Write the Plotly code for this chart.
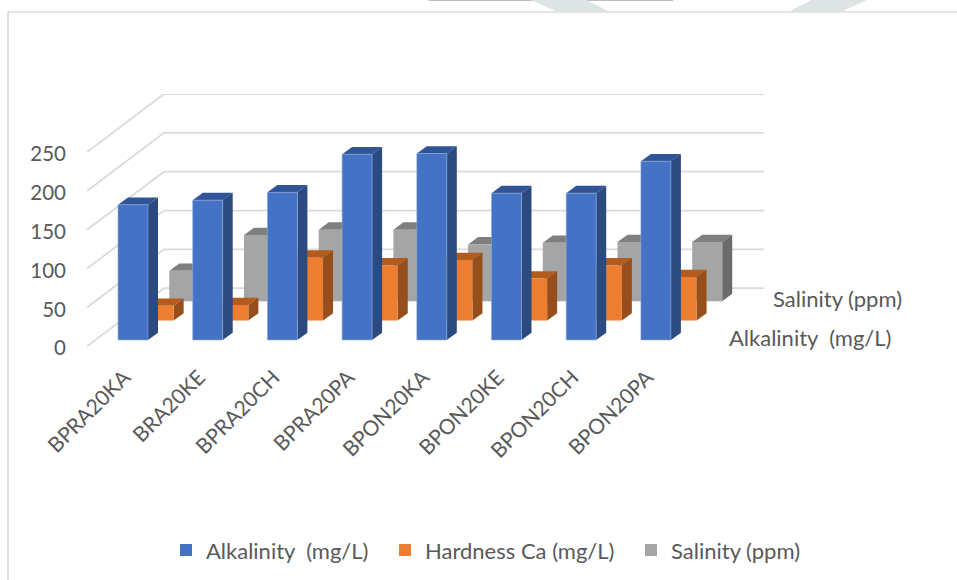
import plotly.graph_objects as go

categories = ["BPRA20KA", "BRA20KE", "BPRA20CH", "BPRA20PA", "BPON20KA", "BPON20KE", "BPON20CH", "BPON20PA"]
alkalinity = [174, 180, 190, 239, 240, 189, 189, 230]
hardness = [19, 20, 81, 71, 78, 54, 71, 56]
salinity = [39, 85, 92, 92, 73, 75, 76, 76]
value_ticks = [0, 50, 100, 150, 200, 250]

series_names = ["Alkalinity  (mg/L)", "Hardness Ca (mg/L)", "Salinity (ppm)"]
series_values = [alkalinity, hardness, salinity]
colors = [("#4472C4", "#2F5597", "#2A4A80"),
          ("#ED7D31", "#B45B1E", "#964F1C"),
          ("#A5A5A5", "#7F7F7F", "#6B6B6B")]

# page geometry (pixels)
W, H = 957, 580
L, R, T, B = 87, 764, 94.3, 346.3
PX_X = 74.7            # pixels per category
PX_Y = 0.776           # pixels per value unit
Y_BELOW = 3.5          # value units of plot area below the floor line
B_PLOT = B + Y_BELOW * PX_Y
WALL_X = (164 - 87) / PX_X
WALL_Y = 58 / PX_Y
BAR_X0 = (118 - 87) / PX_X - 0.5
BAR_W = 30 / PX_X
BAR_B0 = (B - 340) / PX_Y
STEP_X = 25.65 / PX_X
STEP_Y = 19.4 / PX_Y
SIDE_X = 10 / PX_X
SIDE_Y = 7.3 / PX_Y
LABEL_NUDGE = 2 / PX_Y  # value-axis labels sit slightly below their gridline ends
GRID = "#DADADA"
TEXT = "#595959"
FONT = "Lato"
LEGEND_X = [166, 385, 631]
LEGEND_Y = 529

fig = go.Figure()


def poly(points_list, color, line=None):
    xs, ys = [], []
    for pts in points_list:
        xs += [p[0] for p in pts] + [pts[0][0], None]
        ys += [p[1] for p in pts] + [pts[0][1], None]
    fig.add_trace(go.Scatter(x=xs, y=ys, mode="lines", fill="toself", fillcolor=color,
                             line=dict(width=0.6 if line else 0, color=line or color),
                             showlegend=False, hoverinfo="skip"))


# gridlines on the walls
xmax = (R - L) / PX_X - 0.5
for v in value_ticks:
    fig.add_trace(go.Scatter(x=[-0.5, -0.5 + WALL_X, xmax], y=[v, v + WALL_Y, v + WALL_Y],
                             mode="lines", line=dict(color=GRID, width=1.8),
                             showlegend=False, hoverinfo="skip"))

# bars, back series first
for s in (2, 1, 0):
    fronts, tops, sides = [], [], []
    for i, v in enumerate(series_values[s]):
        x0 = i + BAR_X0 + s * STEP_X
        x1 = x0 + BAR_W
        b = BAR_B0 + s * STEP_Y
        t = b + v
        fronts.append([(x0, b), (x1, b), (x1, t), (x0, t)])
        tops.append([(x0, t), (x1, t), (x1 + SIDE_X, t + SIDE_Y), (x0 + SIDE_X, t + SIDE_Y)])
        sides.append([(x1, b), (x1 + SIDE_X, b + SIDE_Y), (x1 + SIDE_X, t + SIDE_Y), (x1, t)])
    poly(tops, colors[s][1])
    poly(sides, colors[s][2])
    poly(fronts, colors[s][0], "#8FAADC" if s == 0 else None)


def px(x):
    return (x - L) / (R - L)


def py(y):
    return (B_PLOT - y) / (B_PLOT - T)


# legend entries, each with its own legend box
legend_ids = ["legend", "legend2", "legend3"]
for s in range(3):
    fig.add_trace(go.Scatter(x=[None], y=[None], mode="markers", name=series_names[s],
                             legend=legend_ids[s], showlegend=True,
                             marker=dict(symbol="square", size=14, color=colors[s][0])))


def legend_box(xpix):
    return dict(x=px(xpix), y=py(LEGEND_Y), xanchor="left", yanchor="top",
                font=dict(family=FONT, size=22, color=TEXT), itemsizing="constant",
                bgcolor="rgba(0,0,0,0)", itemclick=False, itemdoubleclick=False)


def rect_path(points):
    return "M " + " L ".join(f"{px(a):.4f},{py(b):.4f}" for a, b in points) + " Z"


shapes = [
    dict(type="line", xref="paper", yref="paper", x0=px(8), x1=px(8), y0=py(12), y1=py(580),
         line=dict(color="#D4D4D4", width=1.5), layer="below"),
    dict(type="line", xref="paper", yref="paper", x0=px(8), x1=px(957), y0=py(12.5), y1=py(12.5),
         line=dict(color="#DCDCDC", width=1.5), layer="below"),
    dict(type="line", xref="paper", yref="paper", x0=px(428.5), x1=px(673), y0=py(0.5), y1=py(0.5),
         line=dict(color="#A8A8A8", width=1.5), layer="below"),
    dict(type="path", xref="paper", yref="paper", layer="below", line=dict(width=0),
         fillcolor="#DEE4E6", path=rect_path([(530, 0), (586, 0), (609, 12), (557, 12)])),
    dict(type="path", xref="paper", yref="paper", layer="below", line=dict(width=0),
         fillcolor="#DEE4E6", path=rect_path([(812, 0), (868, 0), (842, 12), (789, 12)])),
]

annotations = [
    dict(text="Salinity (ppm)", xref="paper", yref="paper", x=px(772), y=py(299),
         xanchor="left", yanchor="middle", showarrow=False, xshift=-1,
         font=dict(family=FONT, size=22, color=TEXT)),
    dict(text="Alkalinity  (mg/L)", xref="paper", yref="paper", x=px(728), y=py(338),
         xanchor="left", yanchor="middle", showarrow=False, xshift=-1,
         font=dict(family=FONT, size=22, color=TEXT)),
]

fig.update_layout(
    width=W, height=H, autosize=False,
    margin=dict(l=L, r=W - R, t=T, b=H - B_PLOT, pad=0, autoexpand=False),
    paper_bgcolor="white", plot_bgcolor="rgba(0,0,0,0)",
    font=dict(family=FONT, size=20, color=TEXT),
    shapes=shapes, annotations=annotations,
    legend=legend_box(LEGEND_X[0]), legend2=legend_box(LEGEND_X[1]), legend3=legend_box(LEGEND_X[2]),
    xaxis=dict(range=[-0.5, xmax], tickmode="array", tickvals=list(range(len(categories))),
               ticktext=categories, tickangle=-45, showgrid=False, zeroline=False, showline=False,
               ticks="", ticklabelstandoff=11, fixedrange=True, automargin=False,
               tickfont=dict(family=FONT, size=21, color=TEXT)),
    yaxis=dict(range=[-Y_BELOW, (B - T) / PX_Y], tickmode="array",
               tickvals=[v - LABEL_NUDGE for v in value_ticks], ticktext=[str(v) for v in value_ticks],
               showgrid=False, zeroline=False, showline=False, ticks="", ticklabelstandoff=20,
               fixedrange=True, automargin=False, tickfont=dict(family=FONT, size=20.5, color=TEXT)),
)

fig.write_html("out.html", config={"displayModeBar": False},
               post_script="document.body.style.margin='0';")
